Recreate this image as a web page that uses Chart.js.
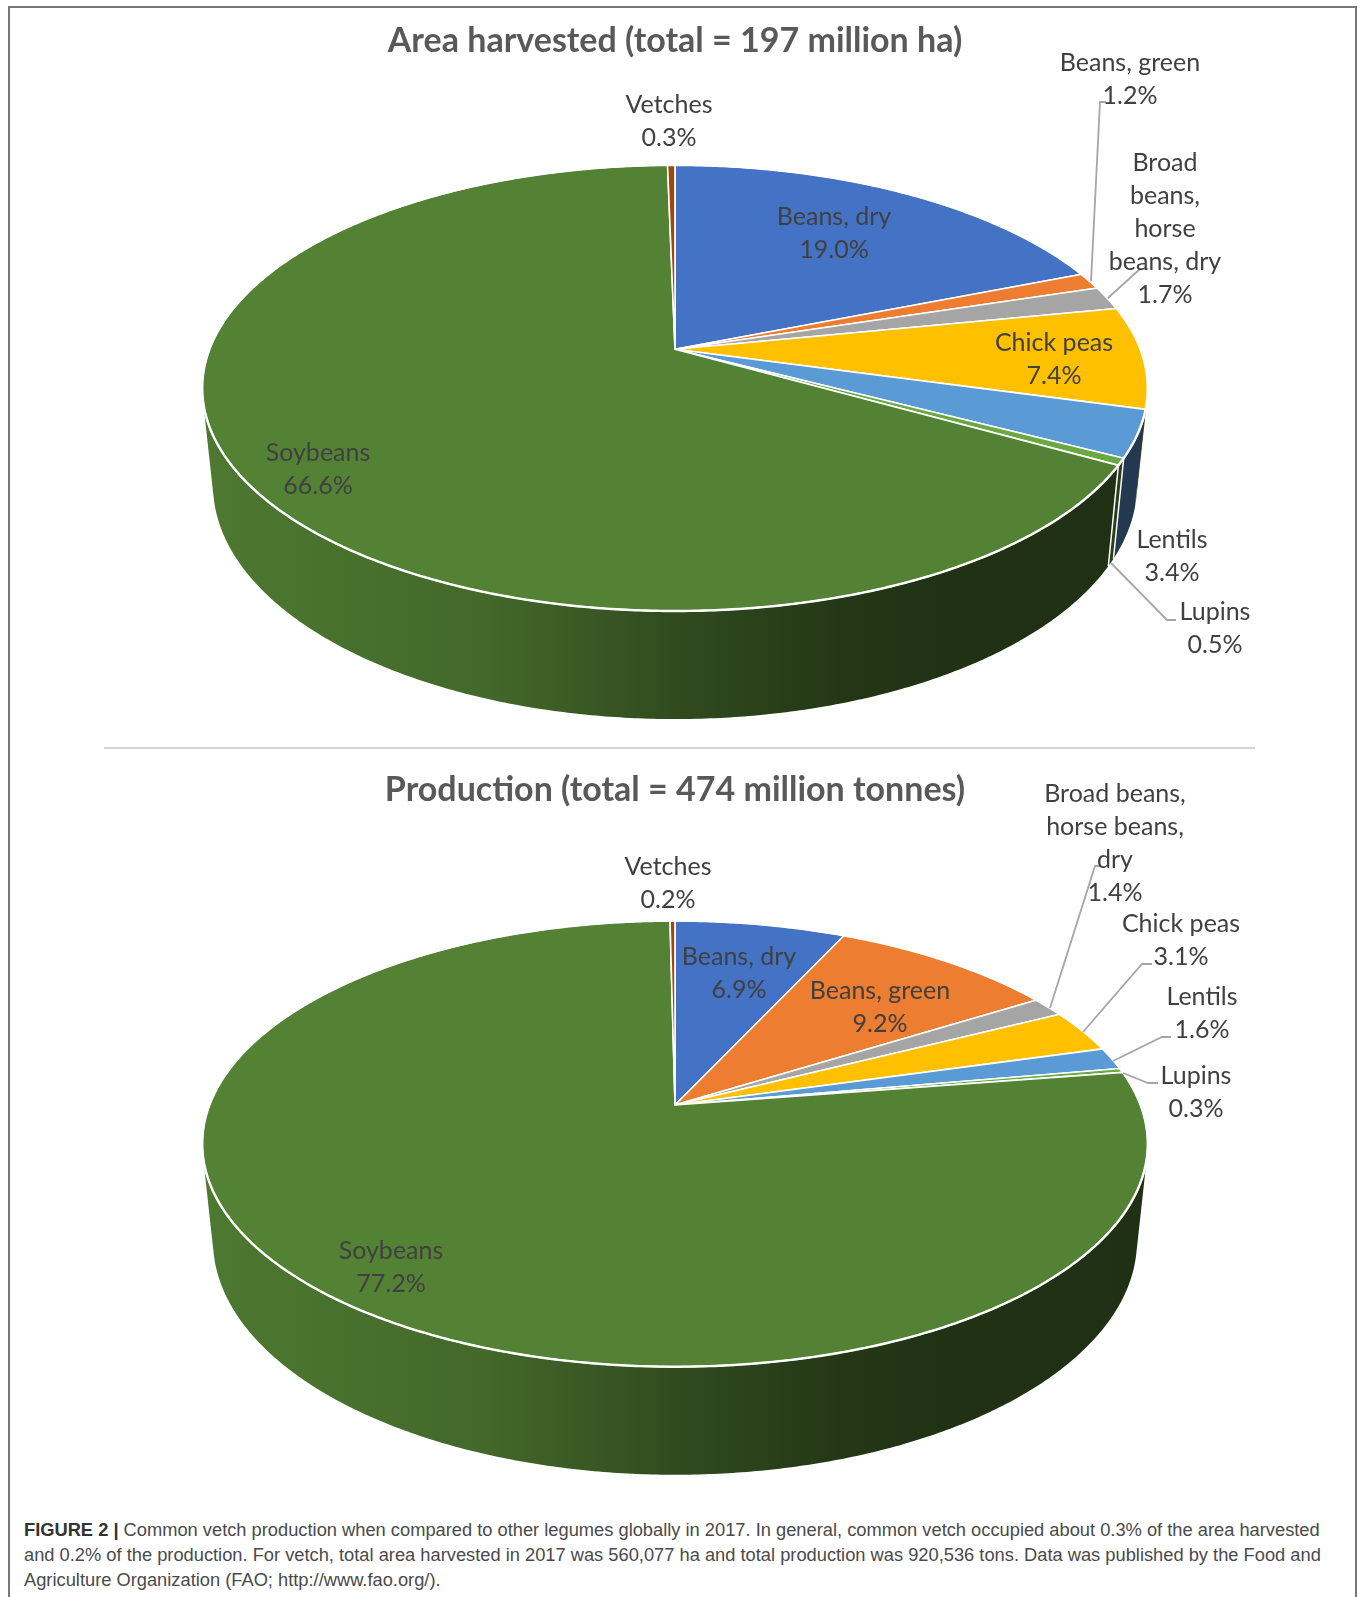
<!DOCTYPE html>
<html><head><meta charset="utf-8">
<script src="https://cdn.jsdelivr.net/npm/chart.js@4"></script>
<style>
html,body{margin:0;padding:0;background:#fff;width:1360px;height:1597px;overflow:hidden}
#frame{position:absolute;left:8px;top:6px;width:1349px;height:1610px;border:2px solid #777;box-sizing:border-box}
canvas{position:absolute;left:0}
#sep{position:absolute;left:104px;top:747px;width:1151px;height:2px;background:#d4d4d4}
#cap{position:absolute;left:24px;top:1517px;width:1325px;font:18.3px/25px "Liberation Sans",Arial,sans-serif;color:#4a4a4a;white-space:nowrap}
#cap b{color:#333}
</style></head><body>
<div id="frame"></div>
<div id="sep"></div>
<canvas id="c1" width="1350" height="748" style="top:0;width:1350px;height:748px"></canvas>
<canvas id="c2" width="1350" height="748" style="top:749px;width:1350px;height:748px"></canvas>
<div id="cap"><b>FIGURE 2 |</b> Common vetch production when compared to other legumes globally in 2017. In general, common vetch occupied about 0.3% of the area harvested<br>and 0.2% of the production. For vetch, total area harvested in 2017 was 560,077 ha and total production was 920,536 tons. Data was published by the Food and<br>Agriculture Organization (FAO; http://www.fao.org/).</div>
<script>
const categories = ["Beans, dry","Beans, green","Broad beans, horse beans, dry","Chick peas","Lentils","Lupins","Soybeans","Vetches"];
const areaValues = [19.0,1.2,1.7,7.4,3.4,0.5,66.6,0.3];
const productionValues = [6.9,9.2,1.4,3.1,1.6,0.3,77.2,0.2];
const sliceColors = ["#4472C4","#ED7D31","#A5A5A5","#FFC000","#5B9BD5","#6AA842","#548235","#9E480E"];
const areaTitle = "Area harvested (total = 197 million ha)";
const productionTitle = "Production (total = 474 million tonnes)";

const areaWrap = [["Beans, dry"],["Beans, green"],["Broad","beans,","horse","beans, dry"],["Chick peas"],["Lentils"],["Lupins"],["Soybeans"],["Vetches"]];
const prodWrap = [["Beans, dry"],["Beans, green"],["Broad beans,","horse beans,","dry"],["Chick peas"],["Lentils"],["Lupins"],["Soybeans"],["Vetches"]];

// label anchors: centre x, y of first line (canvas px)
const areaLabelAt = [[834,217],[1130,63],[1165,163],[1054,343],[1172,540],[1215,612],[318,453],[669,105]];
const prodLabelAt = [[739,208],[880,242],[1115,45],[1181,175],[1202,248],[1196,327],[391,502],[668,118]];
const areaLeaders = [
  [[1091,281],[1100,102],[1106,102]],
  [[1108,298],[1140,269],[1148,269]],
  [[1111,563],[1167,620],[1176,620]]];
const prodLeaders = [
  [[1050,259],[1095,117],[1100,117]],
  [[1083,283],[1142,215],[1152,215]],
  [[1113,312],[1162,288],[1171,288]],
  [[1123,324],[1148,334],[1158,334]]];

// perspective geometry of the pie disc
function geom(apexY){ return {
  top:{y0:apexY, s:216.3, a:465.6},
  bot:{y0:apexY+95.1, s:227, a:455}, d:-0.1735 }; }

function project(cx, g, rim, th){
  const u=Math.sin(th), v=-Math.cos(th), w=1+g.d*v, r=g[rim];
  return [cx + r.a*u/w, r.y0 + r.s*v/w];
}
function shade(hex,f){
  const n=parseInt(hex.slice(1),16);
  return `rgb(${Math.round((n>>16&255)*f)},${Math.round((n>>8&255)*f)},${Math.round((n&255)*f)})`;
}
const STEP=Math.PI/360;
function rimPts(cx,g,rim,a,b){
  const n=Math.max(1,Math.ceil((b-a)/STEP)),p=[];
  for(let i=0;i<=n;i++)p.push(project(cx,g,rim,a+(b-a)*i/n));
  return p;
}
function addPoly(ctx,pts){pts.forEach((p,i)=>i?ctx.lineTo(p[0],p[1]):ctx.moveTo(p[0],p[1]));ctx.closePath();}
function poly(ctx,pts){ctx.beginPath();addPoly(ctx,pts);}
function signedArea(pts){let s=0;pts.forEach((p,i)=>{const q=pts[(i+1)%pts.length];s+=p[0]*q[1]-q[0]*p[1];});return s;}

const piePlugin = {
  id:'pie3d',
  beforeDatasetDraw(chart){
    const o=chart.options.plugins.pie3d, ctx=chart.ctx, g=geom(o.apexY);
    const arcs=chart.getDatasetMeta(0).data, colors=chart.data.datasets[0].backgroundColor;
    const cx=arcs[0].x;
    ctx.save();
    ctx.lineJoin='round';
    // side wall: swept strip between the upper and lower rims, all quads wound the same way
    arcs.forEach((el,i)=>{
      const a=el.startAngle+Math.PI/2,b=el.endAngle+Math.PI/2;
      const T=rimPts(cx,g,'top',a,b),B=rimPts(cx,g,'bot',a,b);
      const gr=ctx.createLinearGradient(cx-472,0,cx+472,0);
      [[0,.93],[.3,.8],[.5,.58],[.68,.42],[.8,.38],[1,.37]].forEach(s=>gr.addColorStop(s[0],shade(colors[i],s[1])));
      ctx.beginPath();
      for(let k=0;k<T.length-1;k++){
        const q=[T[k],T[k+1],B[k+1],B[k]];
        addPoly(ctx,signedArea(q)<0?q.reverse():q);
      }
      ctx.fillStyle=gr;ctx.fill('nonzero');
    });
    // white edges between visible wall pieces
    arcs.forEach(el=>{
      const a=el.startAngle+Math.PI/2;
      if(Math.cos(a)<-0.4 && Math.sin(a)>0){
        const t=project(cx,g,'top',a),m=project(cx,g,'bot',a);
        ctx.beginPath();ctx.moveTo(t[0],t[1]);ctx.lineTo(m[0],m[1]);
        ctx.strokeStyle='#fff';ctx.lineWidth=1.5;ctx.stroke();
      }
    });
    // top face
    arcs.forEach((el,i)=>{
      const a=el.startAngle+Math.PI/2,b=el.endAngle+Math.PI/2;
      poly(ctx,[[cx,o.apexY]].concat(rimPts(cx,g,'top',a,b)));
      ctx.fillStyle=colors[i];ctx.fill();
      ctx.strokeStyle='#fff';ctx.lineWidth=1.6;ctx.stroke();
    });
    // white rim
    poly(ctx,rimPts(cx,g,'top',0,Math.PI*2));
    ctx.strokeStyle='#fff';ctx.lineWidth=2.4;ctx.stroke();
    ctx.restore();
    return false;
  },
  afterDatasetsDraw(chart){
    const o=chart.options.plugins.pie3d, ctx=chart.ctx;
    const vals=chart.data.datasets[0].data;
    ctx.save();
    ctx.strokeStyle='#a6a6a6';ctx.lineWidth=1.8;
    o.leaders.forEach(l=>{ctx.beginPath();l.forEach((p,i)=>i?ctx.lineTo(p[0],p[1]):ctx.moveTo(p[0],p[1]));ctx.stroke();});
    ctx.font='25px Lato';ctx.textAlign='center';ctx.textBaseline='middle';ctx.fillStyle='#404040';
    chart.data.labels.forEach((lab,i)=>{
      const lines=o.wrap[i].concat([vals[i].toFixed(1)+'%']),at=o.labelAt[i];
      lines.forEach((t,k)=>ctx.fillText(t,at[0],at[1]+k*32.9));
    });
    ctx.restore();
  }
};

function makeChart(id,title,values,apexY,labelAt,wrap,leaders,titlePad){
  return new Chart(document.getElementById(id),{
    type:'pie',
    plugins:[piePlugin],
    data:{labels:categories,datasets:[{data:values,backgroundColor:sliceColors}]},
    options:{
      responsive:false,animation:false,devicePixelRatio:1,
      plugins:{
        legend:{display:false},tooltip:{enabled:false},
        title:{display:true,text:title,color:'#595959',font:{family:'Lato',size:34,weight:'bold'},padding:{top:titlePad,bottom:0}},
        pie3d:{apexY,labelAt,wrap,leaders}
      }
    }
  });
}
makeChart('c1',areaTitle,areaValues,349.3,areaLabelAt,areaWrap,areaLeaders,21);
makeChart('c2',productionTitle,productionValues,356,prodLabelAt,prodWrap,prodLeaders,21);
</script>
</body></html>
